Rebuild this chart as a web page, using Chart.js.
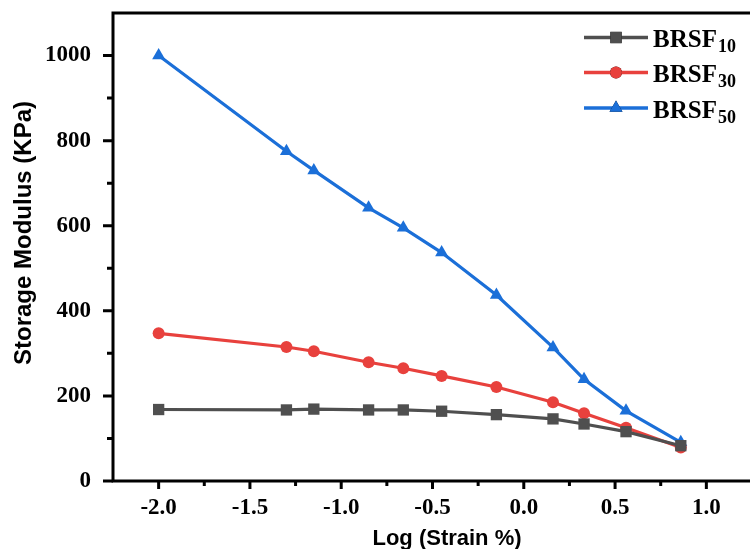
<!DOCTYPE html>
<html>
<head>
<meta charset="utf-8">
<script src="https://cdn.jsdelivr.net/npm/chart.js@4/dist/chart.umd.min.js"></script>
<style>
  html, body { margin: 0; padding: 0; background: #fff; overflow: hidden; }
  #wrap { width: 760px; height: 549px; }
</style>
</head>
<body>
<div id="wrap"><canvas id="modulus-chart"></canvas></div>
<script>
// Log of strain (%) for each sweep point
const logStrain = [-2.0, -1.3, -1.15, -0.85, -0.66, -0.45, -0.15, 0.16, 0.33, 0.56, 0.86];

// Storage modulus (KPa) per sample
const brsf10 = [168, 167, 169, 167, 167, 164, 156, 146, 134, 116, 83];
const brsf30 = [347, 315, 305, 279, 265, 247, 221, 185, 159, 125, 79];
const brsf50 = [1000, 775, 730, 642, 595, 537, 437, 314, 239, 165, 91];

const seriesNames = ['BRSF', 'BRSF', 'BRSF'];
const seriesSubs = ['10', '30', '50'];

const xMajorTicks = [-2.0, -1.5, -1.0, -0.5, 0.0, 0.5, 1.0];
const yMajorTicks = [0, 200, 400, 600, 800, 1000];

const COLORS = ['#4f4f4f', '#e8413d', '#1b6fd8'];
const STYLES = ['rect', 'circle', 'triangle'];
const RADII = [8, 6, 7.5];

const toPoints = ys => logStrain.map((x, i) => ({ x, y: ys[i] }));

const serif = { family: '"Liberation Serif", "Times New Roman", serif', size: 23, weight: 'bold' };

// axes frame, tick marks, axis titles and legend
const decorPlugin = {
  id: 'decor',
  afterDraw(chart) {
    const ctx = chart.ctx;
    const area = chart.chartArea;
    const xs = chart.scales.x;
    const ys = chart.scales.y;
    ctx.save();
    ctx.strokeStyle = '#000';
    ctx.lineCap = 'square';

    // frame: left, bottom, top
    ctx.lineWidth = 3;
    ctx.beginPath();
    ctx.moveTo(area.right + 5, area.top);
    ctx.lineTo(area.left, area.top);
    ctx.lineTo(area.left, area.bottom);
    ctx.lineTo(area.right + 5, area.bottom);
    ctx.stroke();

    // tick marks
    ctx.lineWidth = 3;
    ctx.lineCap = 'butt';
    ctx.beginPath();
    for (let v = 0; v <= 1000; v += 100) {
      const y = ys.getPixelForValue(v);
      const len = v % 200 === 0 ? 10 : 6;
      ctx.moveTo(area.left - len, y);
      ctx.lineTo(area.left, y);
    }
    for (let v = -2.0; v <= 1.26; v += 0.25) {
      const x = xs.getPixelForValue(v);
      const major = Math.abs(v * 2 - Math.round(v * 2)) < 1e-6;
      const len = major ? 8 : 5;
      ctx.moveTo(x, area.bottom);
      ctx.lineTo(x, area.bottom + len);
    }
    ctx.stroke();

    // axis titles
    ctx.fillStyle = '#000';
    ctx.textBaseline = 'alphabetic';
    ctx.textAlign = 'center';
    ctx.font = 'bold 22px "Liberation Sans", Arial, sans-serif';
    ctx.fillText('Log (Strain %)', 447, 545);
    ctx.save();
    ctx.translate(31, 233);
    ctx.rotate(-Math.PI / 2);
    ctx.font = 'bold 24px "Liberation Sans", Arial, sans-serif';
    ctx.fillText('Storage Modulus (KPa)', 0, 0);
    ctx.restore();

    // legend
    const rows = [37.5, 72.5, 108];
    chart.data.datasets.forEach((ds, i) => {
      const cy = rows[i];
      ctx.strokeStyle = ds.borderColor;
      ctx.lineWidth = 3.5;
      ctx.beginPath();
      ctx.moveTo(584, cy);
      ctx.lineTo(648, cy);
      ctx.stroke();
      Chart.helpers.drawPoint(ctx, {
        pointStyle: ds.pointStyle, radius: ds.pointRadius, rotation: 0, borderWidth: 0
      }, 616, cy);
      ctx.fillStyle = ds.backgroundColor;
      ctx.fill();

      ctx.fillStyle = '#000';
      ctx.textAlign = 'left';
      ctx.font = 'bold 25px "Liberation Serif", "Times New Roman", serif';
      ctx.fillText(seriesNames[i], 653, cy + 9.5);
      const w = ctx.measureText(seriesNames[i]).width;
      ctx.font = 'bold 18px "Liberation Serif", "Times New Roman", serif';
      ctx.fillText(seriesSubs[i], 653 + w + 1, cy + 14.5);
    });
    ctx.restore();
  }
};

new Chart(document.getElementById('modulus-chart'), {
  type: 'line',
  data: {
    datasets: [brsf50, brsf30, brsf10].map((ys, k) => {
      const i = 2 - k;
      return {
        label: seriesNames[i] + seriesSubs[i],
        data: toPoints(ys),
        borderColor: COLORS[i],
        backgroundColor: COLORS[i],
        borderWidth: 3.2,
        pointStyle: STYLES[i],
        pointRadius: RADII[i],
        pointBorderWidth: 0,
        tension: 0
      };
    }).reverse()
  },
  options: {
    responsive: true, maintainAspectRatio: false, animation: false,
    layout: { padding: { top: 13, right: 2, left: 0, bottom: 0 } },
    plugins: { legend: { display: false }, tooltip: { enabled: false } },
    scales: {
      x: {
        type: 'linear', min: -2.25, max: 1.25,
        afterFit: s => { s.height = 68; s.paddingLeft = 0; s.paddingRight = 0; },
        afterBuildTicks: s => { s.ticks = xMajorTicks.map(v => ({ value: v })); },
        grid: { display: false, drawTicks: false }, border: { display: false },
        ticks: { color: '#000', font: serif, padding: 13, maxRotation: 0, callback: v => v.toFixed(1) }
      },
      y: {
        min: 0, max: 1100,
        afterFit: s => { s.width = 113; s.paddingTop = 0; s.paddingBottom = 0; },
        afterBuildTicks: s => { s.ticks = yMajorTicks.map(v => ({ value: v })); },
        grid: { display: false, drawTicks: false }, border: { display: false },
        ticks: { color: '#000', font: serif, padding: 22, callback: v => String(v) }
      }
    }
  },
  plugins: [decorPlugin]
});
</script>
</body>
</html>
